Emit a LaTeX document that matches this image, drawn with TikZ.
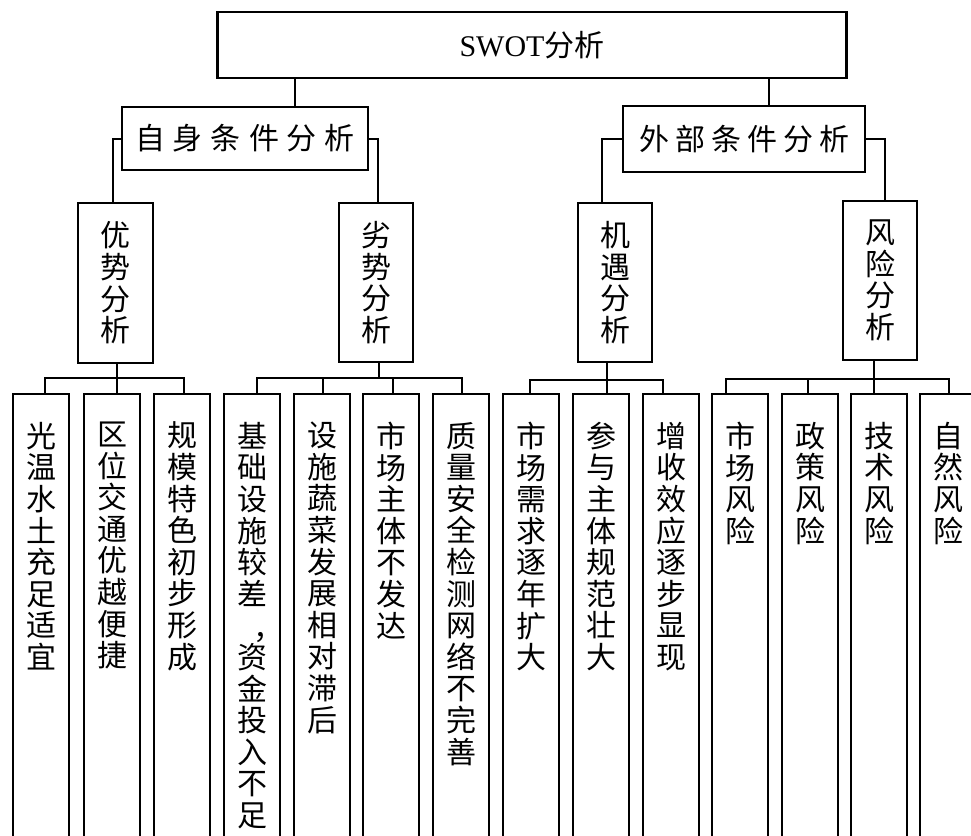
\documentclass[tikz,border=0pt]{standalone}
\usepackage{fontspec}
\setmainfont{Noto Sans CJK SC}
\newfontfamily\latser{Liberation Serif}
\newcommand{\vcol}[1]{\parbox[t][470pt][t]{56pt}{\centering\vspace*{28pt}#1}}
\newcommand{\vcomma}{\makebox[30pt][l]{\hspace{16pt}\raisebox{-3pt}{，}}}
\begin{document}
\begin{tikzpicture}[x=1pt,y=-1pt,
  box/.style={draw, line width=2.2pt, inner sep=0pt},
  hbox/.style={box, font=\fontsize{30pt}{31.6pt}\selectfont},
  vbox/.style={box, minimum width=75pt, minimum height=160pt, align=center, font=\fontsize{30pt}{31.6pt}\selectfont},
  leaf/.style={draw, line width=2pt, inner sep=0pt, anchor=north, font=\fontsize{30pt}{31.6pt}\selectfont},
  link/.style={line width=2pt}]
\useasboundingbox (0,0) rectangle (971,835);
\clip (0,0) rectangle (971,835);
% level 0
\node[box, minimum width=629pt, minimum height=66pt, font=\fontsize{30pt}{32pt}\selectfont] (swot) at (532,45) {{\latser SWOT}分析};
% level 1
\node[hbox, minimum width=246pt, minimum height=63pt] (self) at (245,138.5) {自\hspace{8pt}身\hspace{8pt}条\hspace{8pt}件\hspace{8pt}分\hspace{8pt}析};
\node[hbox, minimum width=242pt, minimum height=66pt] (ext) at (744,139) {外\hspace{6pt}部\hspace{6pt}条\hspace{6pt}件\hspace{6pt}分\hspace{6pt}析};
% level 2
\node[vbox] (adv) at (115.5,283) {优\\势\\分\\析};
\node[vbox, minimum width=74pt, minimum height=159pt] (dis) at (376,282.5) {劣\\势\\分\\析};
\node[vbox, minimum width=74pt, minimum height=159pt] (opp) at (615,282.5) {机\\遇\\分\\析};
\node[vbox, minimum width=74pt, minimum height=159pt] (risk) at (880,280.5) {风\\险\\分\\析};
% level 3
\node[leaf] (l1) at (41,393) {\vcol{光\\温\\水\\土\\充\\足\\适\\宜}};
\node[leaf] (l2) at (112,393) {\vcol{区\\位\\交\\通\\优\\越\\便\\捷}};
\node[leaf] (l3) at (182,393) {\vcol{规\\模\\特\\色\\初\\步\\形\\成}};
\node[leaf] (l4) at (252,393) {\vcol{基\\础\\设\\施\\较\\差\\\vcomma\\资\\金\\投\\入\\不\\足}};
\node[leaf] (l5) at (322,393) {\vcol{设\\施\\蔬\\菜\\发\\展\\相\\对\\滞\\后}};
\node[leaf] (l6) at (391,393) {\vcol{市\\场\\主\\体\\不\\发\\达}};
\node[leaf] (l7) at (461,393) {\vcol{质\\量\\安\\全\\检\\测\\网\\络\\不\\完\\善}};
\node[leaf] (l8) at (531,393) {\vcol{市\\场\\需\\求\\逐\\年\\扩\\大}};
\node[leaf] (l9) at (601,393) {\vcol{参\\与\\主\\体\\规\\范\\壮\\大}};
\node[leaf] (l10) at (671,393) {\vcol{增\\收\\效\\应\\逐\\步\\显\\现}};
\node[leaf] (l11) at (740,393) {\vcol{市\\场\\风\\险}};
\node[leaf] (l12) at (810,393) {\vcol{政\\策\\风\\险}};
\node[leaf] (l13) at (879,393) {\vcol{技\\术\\风\\险}};
\node[leaf] (l14) at (948,393) {\vcol{自\\然\\风\\险}};
% connectors level 0-1
\draw[link] ([xshift=50pt]self.north) -- ([xshift=50pt]self.north |- swot.south);
\draw[link] ([xshift=25pt]ext.north) -- ([xshift=25pt]ext.north |- swot.south);
% level 1-2
\draw[link] (self.west) -| ([xshift=-3pt]adv.north);
\draw[link] (self.east) -| ([xshift=2pt]dis.north);
\draw[link] (ext.west) -| ([xshift=-13pt]opp.north);
\draw[link] (ext.east) -| ([xshift=5pt]risk.north);
% level 2-3
\draw[link] ([xshift=1.5pt]adv.south) -- ++(0,14) coordinate (ba);
\draw[link] (ba) -| ([xshift=4pt]l1.north);
\draw[link] (ba) -| ([xshift=5pt]l2.north);
\draw[link] (ba) -| ([xshift=2pt]l3.north);
\draw[link] ([xshift=3pt]dis.south) -- ++(0,15) coordinate (bd);
\draw[link] (bd) -| ([xshift=5pt]l4.north);
\draw[link] (bd) -| ([xshift=1pt]l5.north);
\draw[link] (bd) -| ([xshift=2pt]l6.north);
\draw[link] (bd) -| ([xshift=1pt]l7.north);
\draw[link] ([xshift=-8pt]opp.south) -- ++(0,17) coordinate (bo);
\draw[link] (bo) -| ([xshift=-1pt]l8.north);
\draw[link] (bo) -| ([xshift=6pt]l9.north);
\draw[link] (bo) -| ([xshift=-8pt]l10.north);
\draw[link] ([xshift=-6pt]risk.south) -- ++(0,18) coordinate (br);
\draw[link] (br) -| ([xshift=-14pt]l11.north);
\draw[link] (br) -| ([xshift=-2pt]l12.north);
\draw[link] (br) -| ([xshift=-5pt]l13.north);
\draw[link] (br) -| ([xshift=1pt]l14.north);
\end{tikzpicture}
\end{document}
